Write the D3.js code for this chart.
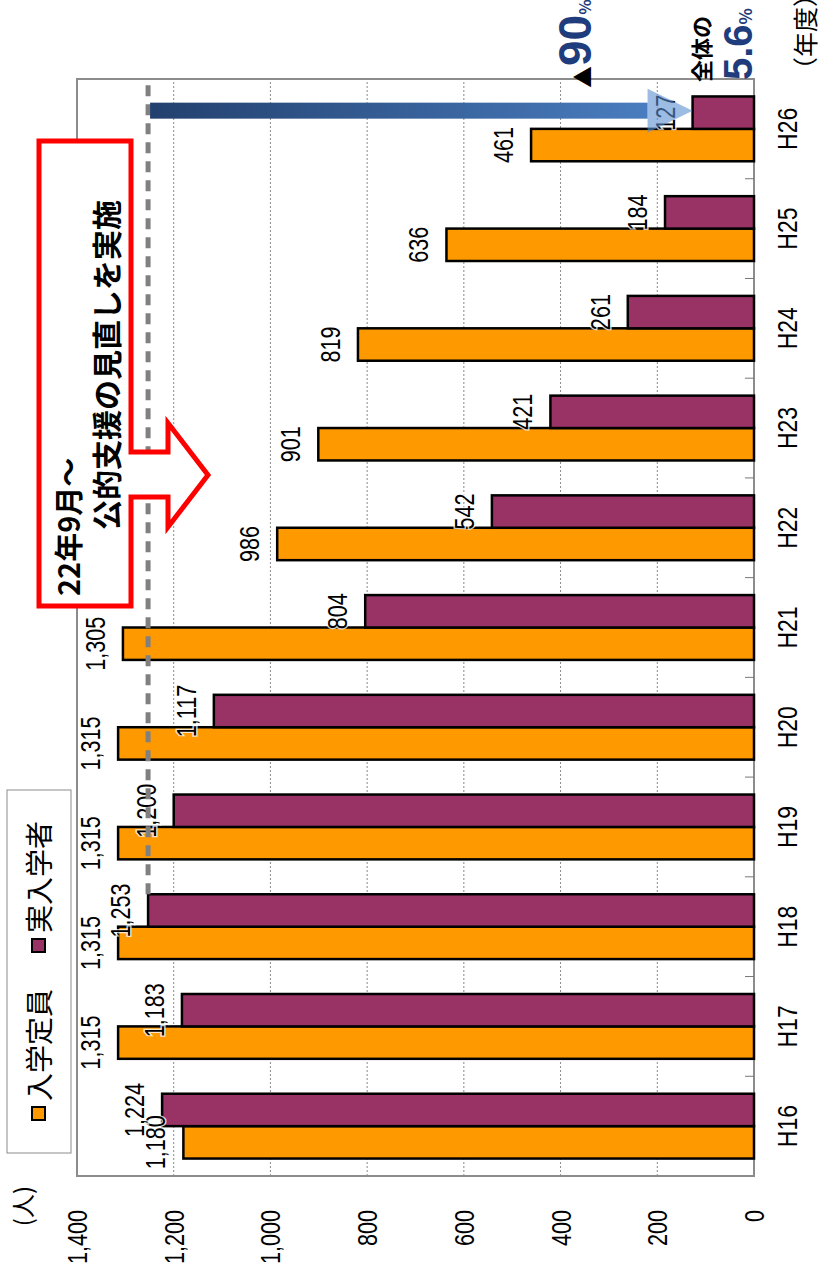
<!DOCTYPE html>
<html>
<head>
<meta charset="utf-8">
<script src="https://cdn.jsdelivr.net/npm/d3@7"></script>
<style>
  body { margin: 0; background: #fff; }
  svg { display: block; }
  text { font-family: "Liberation Sans", Arial, sans-serif; }
  .jp { font-family: "Noto Sans CJK JP", sans-serif; }
</style>
</head>
<body>
<svg id="chart" width="819" height="1280"></svg>
<script>
// data
const categories = ["H16", "H17", "H18", "H19", "H20", "H21", "H22", "H23", "H24", "H25", "H26"];
const capacity = [1180, 1315, 1315, 1315, 1315, 1305, 986, 901, 819, 636, 461];   // 入学定員
const enrolled = [1224, 1183, 1253, 1200, 1117, 804, 542, 421, 261, 184, 127];    // 実入学者
const seriesNames = ["入学定員", "実入学者"];
const seriesColors = ["#ff9900", "#993366"];
const yTicks = [0, 200, 400, 600, 800, 1000, 1200, 1400];
const calloutLines = ["22年9月～", "公的支援の見直しを実施"];

// chart drawn in landscape (1280 x 819), then turned to portrait
const svg = d3.select("#chart");
const g = svg.append("g").attr("transform", "translate(0,1280) rotate(-90)");

const plot = { left: 104, right: 1201, top: 77, bottom: 754 };

const x0 = d3.scaleBand().domain(categories).range([plot.left, plot.right]).padding(0);
const x1 = d3.scaleBand().domain(seriesNames)
    .range([x0.bandwidth() * 0.175, x0.bandwidth() * 0.825]).padding(0);
const y = d3.scaleLinear().domain([0, 1400]).range([plot.bottom, plot.top]);

const rows = categories.map((c, i) => ({ cat: c, values: [capacity[i], enrolled[i]] }));

// gridlines
g.selectAll(".grid")
    .data(yTicks.filter(t => t > 0 && t < 1400))
    .enter().append("line")
    .attr("x1", plot.left).attr("x2", plot.right)
    .attr("y1", d => y(d)).attr("y2", d => y(d))
    .attr("stroke", "#8a8a8a").attr("stroke-width", 1)
    .attr("stroke-dasharray", "2,2");

// frame
g.append("rect")
    .attr("x", plot.left).attr("y", plot.top)
    .attr("width", plot.right - plot.left).attr("height", plot.bottom - plot.top)
    .attr("fill", "none").attr("stroke", "#8c8c8c").attr("stroke-width", 2);

// category tick marks (inside)
g.selectAll(".ctick")
    .data(categories.slice(1))
    .enter().append("line")
    .attr("x1", d => x0(d)).attr("x2", d => x0(d))
    .attr("y1", plot.bottom - 9).attr("y2", plot.bottom)
    .attr("stroke", "#777").attr("stroke-width", 1);

// value axis labels
g.selectAll(".ytl")
    .data(yTicks)
    .enter().append("text")
    .attr("transform", d => `translate(70,${y(d) + 10}) scale(0.8,1)`)
    .attr("text-anchor", "end")
    .attr("font-size", 27)
    .attr("fill", "#000")
    .text(d => d3.format(",")(d));

g.append("text").attr("class", "jp")
    .attr("x", 74).attr("y", 32)
    .attr("text-anchor", "middle")
    .attr("font-size", 24)
    .text("(人)");

// category labels
g.selectAll(".xtl")
    .data(categories)
    .enter().append("text")
    .attr("transform", d => `translate(${x0(d) + x0.bandwidth() / 2},797) scale(0.85,1)`)
    .attr("text-anchor", "middle")
    .attr("font-size", 27)
    .text(d => d);

g.append("text").attr("class", "jp")
    .attr("x", 1198).attr("y", 815)
    .attr("font-size", 25)
    .text("（年度）");

// bars
const groups = g.selectAll(".cat")
    .data(rows)
    .enter().append("g")
    .attr("transform", d => `translate(${x0(d.cat)},0)`);

groups.selectAll("rect")
    .data(d => d.values.map((v, k) => ({ key: seriesNames[k], v, k })))
    .enter().append("rect")
    .attr("x", d => x1(d.key))
    .attr("width", x1.bandwidth())
    .attr("y", d => y(d.v))
    .attr("height", d => y(0) - y(d.v))
    .attr("fill", d => seriesColors[d.k])
    .attr("stroke", "#000").attr("stroke-width", 2.5);

// value labels
groups.selectAll(".vl")
    .data(d => d.values.map((v, k) => ({ key: seriesNames[k], v, k })))
    .enter().append("text")
    .attr("transform", d => `translate(${x1(d.key) + x1.bandwidth() / 2},${y(d.v) - 18}) scale(0.8,1)`)
    .attr("text-anchor", "middle")
    .attr("font-size", 27)
    .attr("stroke", "#fff").attr("stroke-width", 3).attr("stroke-opacity", 0.8)
    .attr("paint-order", "stroke")
    .text(d => d3.format(",")(d.v));

// dashed reference line at H18 actual level
const refVal = enrolled[2];
g.append("line")
    .attr("x1", x0("H18") + x1("実入学者") + x1.bandwidth())
    .attr("x2", plot.right - 2)
    .attr("y1", y(refVal)).attr("y2", y(refVal))
    .attr("stroke", "#808080").attr("stroke-width", 5)
    .attr("stroke-dasharray", "11,8");

// blue arrow from reference down to H26 actual
const defs = svg.append("defs");
const grad = defs.append("linearGradient")
    .attr("id", "blueGrad").attr("gradientUnits", "userSpaceOnUse")
    .attr("x1", 0).attr("y1", y(refVal)).attr("x2", 0).attr("y2", y(enrolled[10]));
grad.append("stop").attr("offset", "0%").attr("stop-color", "#22406e");
grad.append("stop").attr("offset", "100%").attr("stop-color", "#4d82c6");

const ax = x0("H26") + x1("実入学者") + x1.bandwidth() / 2 + 2;
const tipY = y(enrolled[10]);
const headY = tipY - 45;
g.append("rect")
    .attr("x", ax - 8).attr("y", y(refVal) + 2)
    .attr("width", 16).attr("height", headY - y(refVal) - 2)
    .attr("fill", "url(#blueGrad)");
g.append("path")
    .attr("d", `M${ax - 22},${headY} L${ax + 22},${headY} L${ax},${tipY} Z`)
    .attr("fill", "#5b8fd2").attr("fill-opacity", 0.6);

// ▲90%
const t90 = g.append("text").attr("x", 1192).attr("y", 591);
t90.append("tspan").attr("class", "jp").attr("font-size", 22).attr("fill", "#000").text("▲");
t90.append("tspan").attr("font-size", 46).attr("font-weight", "bold").attr("fill", "#1f3c7c").text("90");
t90.append("tspan").attr("class", "jp").attr("font-size", 16).attr("font-weight", "bold").attr("fill", "#1f3c7c").text("%");

// 全体の 5.6%
g.append("text").attr("class", "jp")
    .attr("x", 1198).attr("y", 710)
    .attr("font-size", 22).attr("font-weight", "bold")
    .text("全体の");
const t56 = g.append("text").attr("x", 1200).attr("y", 752);
t56.append("tspan").attr("font-size", 40).attr("font-weight", "bold").attr("fill", "#1f3c7c").text("5.6");
t56.append("tspan").attr("class", "jp").attr("font-size", 17).attr("font-weight", "bold").attr("fill", "#1f3c7c").text("%");

// callout box with arrow
const cb = { x1: 674, x2: 1139, y1: 39, y2: 131 };
const shaft = { x1: 783, x2: 828, y: 168 };
const head = { x1: 753, x2: 857, tipX: 805, tipY: 208 };
g.append("path")
    .attr("d", [
        `M${cb.x1},${cb.y1}`, `L${cb.x2},${cb.y1}`, `L${cb.x2},${cb.y2}`,
        `L${shaft.x2},${cb.y2}`, `L${shaft.x2},${shaft.y}`, `L${head.x2},${shaft.y}`,
        `L${head.tipX},${head.tipY}`, `L${head.x1},${shaft.y}`, `L${shaft.x1},${shaft.y}`,
        `L${shaft.x1},${cb.y2}`, `L${cb.x1},${cb.y2}`, "Z"
    ].join(" "))
    .attr("fill", "#fff").attr("stroke", "#ff0000").attr("stroke-width", 5)
    .attr("stroke-linejoin", "miter");

g.append("text").attr("class", "jp")
    .attr("x", 684).attr("y", 80)
    .attr("font-size", 29).attr("font-weight", "bold")
    .text(calloutLines[0]);
g.append("text").attr("class", "jp")
    .attr("x", 750).attr("y", 118)
    .attr("font-size", 30).attr("font-weight", "bold")
    .text(calloutLines[1]);

// legend
g.append("rect")
    .attr("x", 127).attr("y", 7).attr("width", 363).attr("height", 64)
    .attr("fill", "#fff").attr("stroke", "#8c8c8c").attr("stroke-width", 1);
const legendX = [160, 328];
seriesNames.forEach((name, k) => {
    g.append("rect")
        .attr("x", legendX[k]).attr("y", 32).attr("width", 13).attr("height", 13)
        .attr("fill", seriesColors[k]).attr("stroke", "#000").attr("stroke-width", 2);
    g.append("text").attr("class", "jp")
        .attr("x", legendX[k] + 19).attr("y", 50)
        .attr("font-size", 28)
        .text(name);
});
</script>
</body>
</html>
